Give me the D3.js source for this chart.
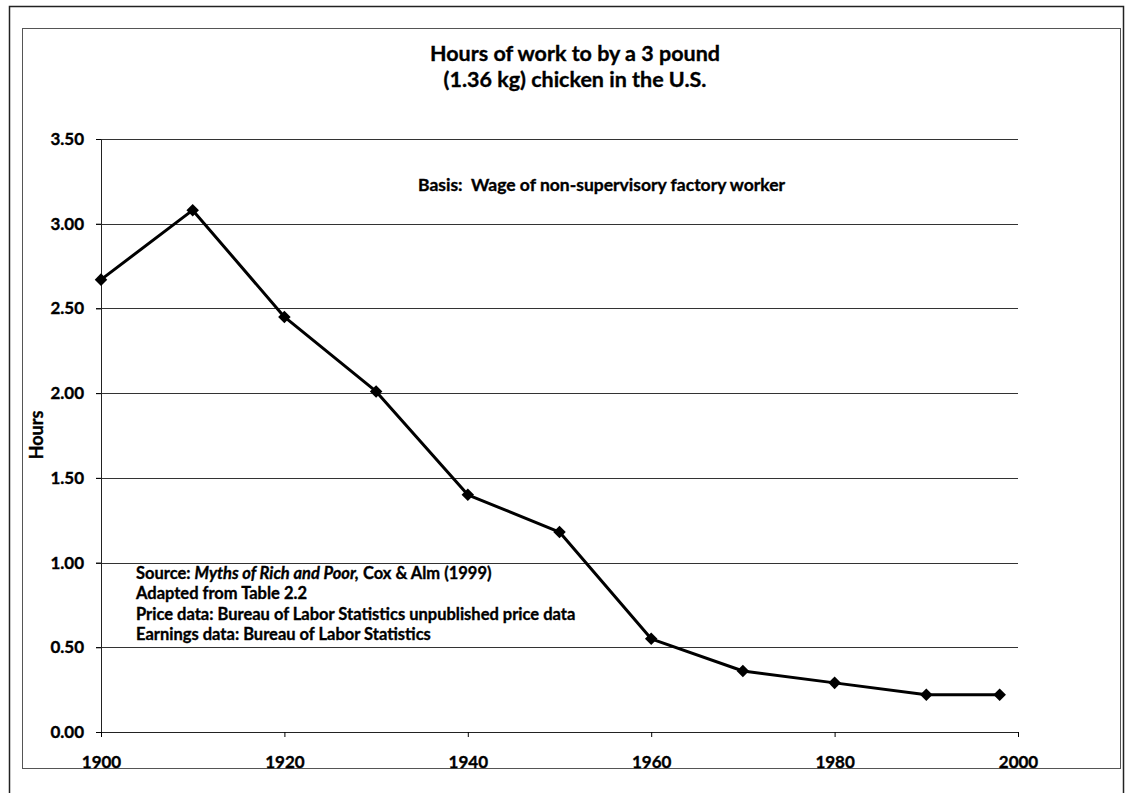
<!DOCTYPE html>
<html><head><meta charset="utf-8">
<script src="https://cdn.jsdelivr.net/npm/d3@7"></script>
<style>body{margin:0;background:#fff;} svg{display:block;font-family:Lato,"Open Sans",sans-serif;} text{white-space:pre;}</style>
</head><body>
<svg id="c" width="1125" height="793"></svg>
<script>
const years = [1900, 1910, 1920, 1930, 1940, 1950, 1960, 1970, 1980, 1990, 1998];
const hours = [2.67, 3.08, 2.45, 2.01, 1.40, 1.18, 0.55, 0.36, 0.29, 0.22, 0.22];
const yTicks = [0, 0.5, 1, 1.5, 2, 2.5, 3, 3.5];
const xTicks = [1900, 1920, 1940, 1960, 1980, 2000];
const titleLines = ["Hours of work to by a 3 pound", "(1.36 kg) chicken in the U.S."];
const basisText = "Basis:  Wage of non-supervisory factory worker";
const yLabel = "Hours";

const svg = d3.select("#c");
// outer frame
svg.append("rect").attr("x",9.5).attr("y",6.5).attr("width",1114).attr("height",800)
  .attr("fill","none").attr("stroke","#222").attr("stroke-width",1.5);
// inner chart frame
svg.append("rect").attr("x",22.5).attr("y",28.5).attr("width",1098).attr("height",740)
  .attr("fill","none").attr("stroke","#555").attr("stroke-width",1);

const x = d3.scaleLinear().domain([1900,2000]).range([101,1018]);
const y = d3.scaleLinear().domain([0,3.5]).range([732,139]);

// gridlines
svg.append("g").selectAll("line").data(yTicks.filter(d=>d>0)).join("line")
  .attr("x1",96).attr("x2",1018).attr("y1",d=>Math.round(y(d))+0.5).attr("y2",d=>Math.round(y(d))+0.5)
  .attr("stroke","#333").attr("stroke-width",1);

const heavy = sel => sel.attr("stroke","#000").attr("stroke-width",0.35);

// y axis
const yAxis = svg.append("g").attr("transform","translate(101,0)")
  .call(d3.axisLeft(y).tickValues(yTicks).tickFormat(d3.format(".2f")).tickSize(5).tickPadding(12));
yAxis.select(".domain").attr("stroke","#222");
yAxis.selectAll("text").attr("font-size",17).attr("font-weight","bold").attr("fill","#000").attr("font-family","Lato").call(heavy);

// x axis
const xAxis = svg.append("g").attr("transform","translate(0,732)")
  .call(d3.axisBottom(x).tickValues(xTicks).tickFormat(d3.format("d")).tickSize(5).tickPadding(19));
xAxis.select(".domain").attr("stroke","#222");
xAxis.selectAll("text").attr("font-size",17).attr("font-weight","bold").attr("fill","#000").attr("font-family","Lato").call(heavy);

// line
const line = d3.line().x((d,i)=>x(years[i])).y(d=>y(d));
svg.append("path").datum(hours).attr("d",line).attr("fill","none")
  .attr("stroke","#000").attr("stroke-width",3).attr("stroke-linejoin","round");
svg.append("g").selectAll("path").data(hours).join("path")
  .attr("d",d3.symbol(d3.symbolDiamond2,100))
  .attr("transform",(d,i)=>`translate(${x(years[i])},${y(d)})`)
  .attr("fill","#000");

// title
svg.append("text").attr("text-anchor","middle").attr("font-size",21.5).attr("font-weight","bold").call(heavy)
  .selectAll("tspan").data(titleLines).join("tspan").attr("x",575).attr("y",(d,i)=>61+i*26).text(d=>d);

// basis
svg.append("text").attr("x",418).attr("y",191).attr("font-size",17.5).attr("font-weight","bold").call(heavy).text(basisText);

// y label
svg.append("text").attr("transform","translate(43,435) rotate(-90)").attr("text-anchor","middle")
  .attr("font-size",18).attr("font-weight","bold").call(heavy).text(yLabel);

// source notes
const src = svg.append("g").attr("font-size",16.5).attr("font-weight","bold").call(heavy);
const t1 = src.append("text").attr("x",136).attr("y",579);
t1.append("tspan").text("Source: ");
t1.append("tspan").attr("font-style","italic").text("Myths of Rich and Poor,");
t1.append("tspan").text(" Cox & Alm (1999)");
src.append("text").attr("x",136).attr("y",599).text("Adapted from Table 2.2");
src.append("text").attr("x",136).attr("y",620).text("Price data: Bureau of Labor Statistics unpublished price data");
src.append("text").attr("x",136).attr("y",640).text("Earnings data: Bureau of Labor Statistics");
</script>
</body></html>
